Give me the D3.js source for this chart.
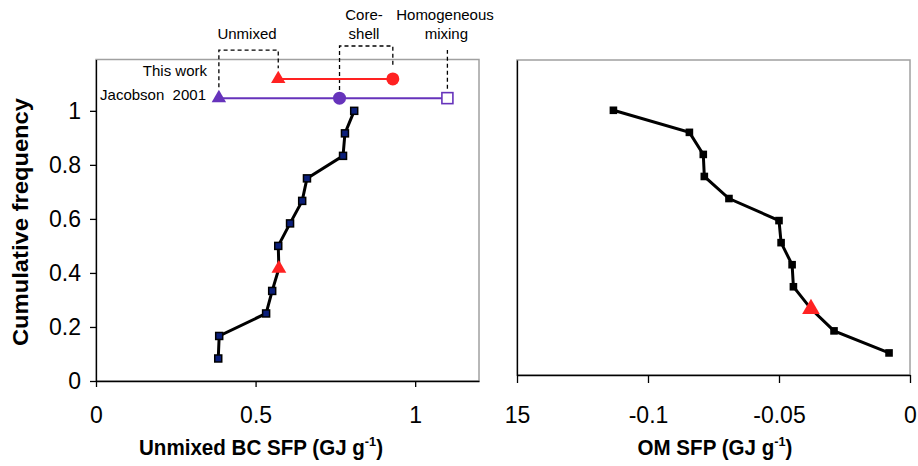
<!DOCTYPE html>
<html>
<head>
<meta charset="utf-8">
<script src="https://cdn.jsdelivr.net/npm/d3@7"></script>
<style>
  html, body { margin: 0; padding: 0; background: #fff; }
  svg { display: block; font-family: "Liberation Sans", Arial, sans-serif; }
</style>
</head>
<body>
<svg id="chart" width="918" height="466"></svg>
<script>
// ---------- data ----------
const cumFreq = [1/12, 2/12, 3/12, 4/12, 5/12, 6/12, 7/12, 8/12, 9/12, 10/12, 11/12, 12/12];
const bcSFP = [0.383, 0.386, 0.533, 0.552, 0.573, 0.571, 0.608, 0.646, 0.661, 0.774, 0.780, 0.809];
const bcHighlightIndex = 4;             // red triangle in the left panel
const omSFP = [-0.0080, -0.0290, -0.0378, -0.0445, -0.0450, -0.0492, -0.0500, -0.0691, -0.0785, -0.0789, -0.0842, -0.1132];
const omHighlightIndex = 2;             // red triangle in the right panel

const thisWorkSFP = [0.571, 0.930];           // unmixed, core-shell
const thisWorkLevel = 1.118;
const jacobsonSFP = [0.385, 0.763, 1.101];    // unmixed, core-shell, homogeneous mixing
const jacobsonLevel = 1.047;

const leftXTicks = [0, 0.5, 1];
const leftXTickLabels = ["0", "0.5", "1"];
const leftYTicks = [0, 0.2, 0.4, 0.6, 0.8, 1];
const leftYTickLabels = ["0", "0.2", "0.4", "0.6", "0.8", "1"];
const rightXTicks = [-0.15, -0.1, -0.05, 0];
const rightXTickLabels = ["15", "-0.1", "-0.05", "0"];

// ---------- setup ----------
const svg = d3.select("#chart");
const RED = "#ff2222", PURPLE = "#6633bb", FRAME = "#a0a0a0";

const xL = d3.scaleLinear().domain([0, 1.2]).range([96, 479]);
const yL = d3.scaleLinear().domain([0, 1.19]).range([381, 59.5]);
const xR = d3.scaleLinear().domain([-0.15, 0]).range([517, 910]);
const yR = d3.scaleLinear().domain([0, 1.19]).range([375, 60]);

// frames
function frame(x, y) {
  svg.append("rect")
    .attr("x", x.range()[0]).attr("y", y.range()[1])
    .attr("width", x.range()[1] - x.range()[0])
    .attr("height", y.range()[0] - y.range()[1])
    .attr("fill", "none").attr("stroke", FRAME).attr("stroke-width", 1.5);
}
frame(xL, yL);
frame(xR, yR);

function styleAxis(g) {
  g.select(".domain").attr("stroke", "#000").attr("stroke-width", 1.3);
  g.selectAll(".tick line").attr("stroke", "#000").attr("stroke-width", 1.3);
  g.selectAll("text").attr("font-size", 23).attr("fill", "#000")
    .attr("font-family", "Liberation Sans, Arial, sans-serif");
}

// left axes
svg.append("g").attr("transform", `translate(${xL.range()[0]},0)`)
  .call(d3.axisLeft(yL).tickValues(leftYTicks).tickSize(6).tickPadding(9).tickSizeOuter(0)
    .tickFormat((d, i) => leftYTickLabels[i]))
  .call(styleAxis);
svg.append("g").attr("transform", `translate(0,${yL.range()[0]})`)
  .call(d3.axisBottom(xL).tickValues(leftXTicks).tickSize(6).tickPadding(20).tickSizeOuter(0)
    .tickFormat((d, i) => leftXTickLabels[i]))
  .call(styleAxis);

// right axes
svg.append("g").attr("transform", `translate(${xR.range()[0]},0)`)
  .call(d3.axisLeft(yR).tickValues([]).tickSizeOuter(0))
  .call(styleAxis);
svg.append("g").attr("transform", `translate(0,${yR.range()[0]})`)
  .call(d3.axisBottom(xR).tickValues(rightXTicks).tickSize(8).tickPadding(24).tickSizeOuter(0)
    .tickFormat((d, i) => rightXTickLabels[i]))
  .call(styleAxis);

// axis titles
function xTitle(cx, label) {
  const t = svg.append("text").attr("transform", `translate(${cx},455) scale(0.98,1.05)`)
    .attr("text-anchor", "middle")
    .attr("font-size", 21).attr("font-weight", "bold");
  t.append("tspan").text(label + " (GJ g");
  t.append("tspan").attr("font-size", 13).attr("dy", -9).text("-1");
  t.append("tspan").attr("dy", 9).text(")");
}
xTitle(261, "Unmixed BC SFP");
xTitle(715, "OM SFP");
svg.append("text").attr("transform", "translate(28,222) rotate(-90) scale(1.08,1.02)")
  .attr("text-anchor", "middle").attr("font-size", 22).attr("font-weight", "bold")
  .text("Cumulative frequency");

// ---------- data lines ----------
const bcPts = bcSFP.map((v, i) => [xL(v), yL(cumFreq[i])]);
const omPts = omSFP.map((v, i) => [xR(v), yR(cumFreq[i])]);
const line = d3.line();
svg.append("path").attr("d", line(bcPts)).attr("fill", "none").attr("stroke", "#000").attr("stroke-width", 3);
svg.append("path").attr("d", line(omPts)).attr("fill", "none").attr("stroke", "#000").attr("stroke-width", 3);

svg.selectAll(".bcsq").data(bcPts.filter((p, i) => i !== bcHighlightIndex)).join("rect")
  .attr("x", d => d[0] - 3.5).attr("y", d => d[1] - 3.5).attr("width", 7).attr("height", 7)
  .attr("fill", "#0b1f7a").attr("stroke", "#000").attr("stroke-width", 1.5);
svg.selectAll(".omsq").data(omPts.filter((p, i) => i !== omHighlightIndex)).join("rect")
  .attr("x", d => d[0] - 3.8).attr("y", d => d[1] - 3.8).attr("width", 7.6).attr("height", 7.6)
  .attr("fill", "#000");

const tri = s => d3.symbol().type(d3.symbolTriangle).size(s)();
svg.append("path").attr("d", tri(95)).attr("fill", RED)
  .attr("transform", `translate(${bcPts[bcHighlightIndex][0]},${bcPts[bcHighlightIndex][1]})`);
svg.append("path").attr("d", tri(135)).attr("fill", RED)
  .attr("transform", `translate(${omPts[omHighlightIndex][0]},${omPts[omHighlightIndex][1]})`);

// ---------- comparison annotation ----------
const yTW = yL(thisWorkLevel), yJ = yL(jacobsonLevel);

// dashed brackets (heights in data units above each marker)
const dash = "4,3";
function bracket(pts) {
  svg.append("path").attr("d", d3.line()(pts)).attr("fill", "none")
    .attr("stroke", "#000").attr("stroke-width", 1.3).attr("stroke-dasharray", dash);
}
bracket([[xL(jacobsonSFP[0]), yL(jacobsonLevel + 0.04)], [xL(jacobsonSFP[0]), yL(1.225)],
         [xL(thisWorkSFP[0]), yL(1.225)], [xL(thisWorkSFP[0]), yL(thisWorkLevel + 0.04)]]);
bracket([[xL(jacobsonSFP[1]), yL(jacobsonLevel + 0.03)], [xL(jacobsonSFP[1]), yL(1.24)],
         [xL(thisWorkSFP[1]), yL(1.24)], [xL(thisWorkSFP[1]), yL(thisWorkLevel + 0.045)]]);
bracket([[xL(jacobsonSFP[2]), yL(jacobsonLevel + 0.035)], [xL(jacobsonSFP[2]), yL(1.225)]]);

svg.append("line").attr("x1", xL(thisWorkSFP[0])).attr("x2", xL(thisWorkSFP[1]))
  .attr("y1", yTW).attr("y2", yTW).attr("stroke", RED).attr("stroke-width", 2);
svg.append("line").attr("x1", xL(jacobsonSFP[0])).attr("x2", xL(jacobsonSFP[2]))
  .attr("y1", yJ).attr("y2", yJ).attr("stroke", PURPLE).attr("stroke-width", 2);

svg.append("path").attr("d", tri(90)).attr("fill", RED)
  .attr("transform", `translate(${xL(thisWorkSFP[0])},${yTW})`);
svg.append("circle").attr("cx", xL(thisWorkSFP[1])).attr("cy", yTW).attr("r", 6.5).attr("fill", RED);
svg.append("path").attr("d", tri(90)).attr("fill", PURPLE)
  .attr("transform", `translate(${xL(jacobsonSFP[0])},${yJ})`);
svg.append("circle").attr("cx", xL(jacobsonSFP[1])).attr("cy", yJ).attr("r", 6.5).attr("fill", PURPLE);
svg.append("rect").attr("x", xL(jacobsonSFP[2]) - 5.5).attr("y", yJ - 5.5)
  .attr("width", 11).attr("height", 11).attr("fill", "#fff").attr("stroke", PURPLE).attr("stroke-width", 1.6);

// annotation texts
function label(x, y, txt, anchor) {
  svg.append("text").attr("x", x).attr("y", y).attr("text-anchor", anchor || "middle")
    .attr("font-size", 15).attr("fill", "#000").style("white-space", "pre").text(txt);
}
label(207, 76, "This work", "end");
label(206, 100, "Jacobson  2001", "end");
label(247, 39, "Unmixed");
label(364, 20, "Core-");
label(364, 39, "shell");
label(445, 20, "Homogeneous");
label(468, 39, "mixing", "end");
</script>
</body>
</html>
